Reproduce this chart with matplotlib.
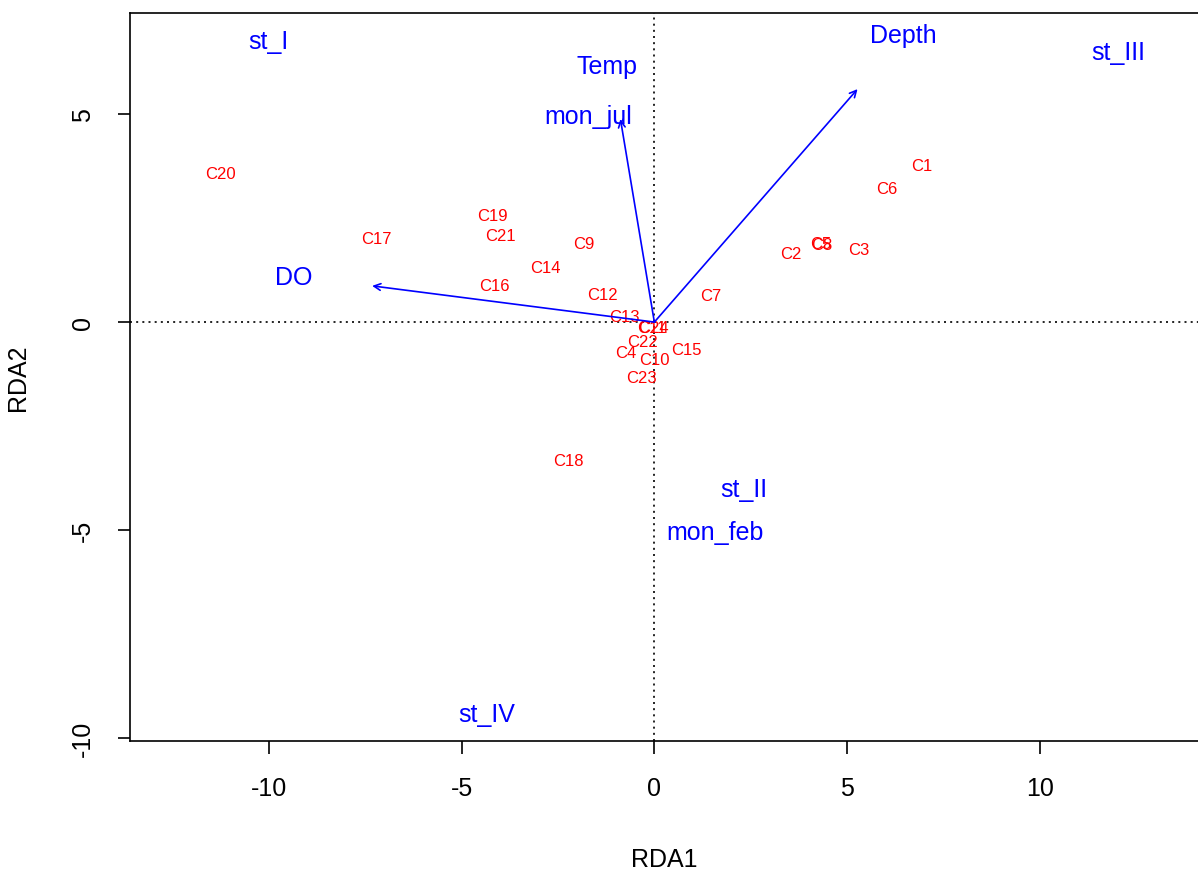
import numpy as np
import matplotlib.pyplot as plt

plt.rcParams['font.family'] = ['Liberation Sans', 'DejaVu Sans']
plt.rcParams['axes.unicode_minus'] = False

# site scores (RDA1, RDA2)
site_names = ["C1", "C2", "C3", "C4", "C5", "C6", "C7", "C8", "C9", "C10", "C11", "C12",
              "C13", "C14", "C15", "C16", "C17", "C18", "C19", "C20", "C21", "C22", "C23", "C24"]
site_x = [6.93, 3.55, 5.29, -0.75, 4.31, 6.02, 1.45, 4.33, -1.84, 0.0, -0.08, -1.35,
          -0.78, -2.83, 0.83, -4.15, -7.21, -2.23, -4.20, -11.26, -4.00, -0.31, -0.34, -0.03]
site_y = [3.77, 1.66, 1.75, -0.72, 1.90, 3.20, 0.63, 1.86, 1.88, -0.89, -0.12, 0.67,
          0.14, 1.30, -0.65, 0.87, 2.00, -3.32, 2.57, 3.56, 2.07, -0.46, -1.32, -0.14]

# continuous environmental variables (arrow tips and label positions)
env_names = ["Depth", "Temp", "DO"]
env_x = [5.27, -0.88, -7.32]
env_y = [5.60, 4.88, 0.87]
env_lab_x = [6.46, -1.22, -9.36]
env_lab_y = [6.90, 6.15, 1.08]

# factor centroids
fac_names = ["st_I", "st_II", "st_III", "st_IV", "mon_jul", "mon_feb"]
fac_x = [-10.01, 2.31, 12.04, -4.36, -1.71, 1.58]
fac_y = [6.75, -4.01, 6.49, -9.42, 4.95, -5.05]

fig = plt.figure(figsize=(11.98, 8.7), dpi=100)
ax = fig.add_axes([0.1085, 0.147, 0.8915, 0.837])

ax.axhline(0, color='black', lw=1.2, ls=(0, (1.2, 2.5)))
ax.axvline(0, color='black', lw=1.2, ls=(0, (1.2, 2.5)))

for name, x, y in zip(site_names, site_x, site_y):
    ax.text(x, y, name, color='red', fontsize=12, ha='center', va='center')

for name, x, y, lx, ly in zip(env_names, env_x, env_y, env_lab_x, env_lab_y):
    ax.annotate('', xy=(x, y), xytext=(0, 0),
                arrowprops=dict(arrowstyle='->', color='blue', lw=1.2,
                                mutation_scale=12, shrinkA=0, shrinkB=0))
    ax.text(lx, ly, name, color='blue', fontsize=18, ha='center', va='center')

for name, x, y in zip(fac_names, fac_x, fac_y):
    ax.text(x, y, name, color='blue', fontsize=18, ha='center', va='center')

ax.set_xlim(-13.6, 14.1)
ax.set_ylim(-10.07, 7.43)
ax.set_xticks([-10, -5, 0, 5, 10])
ax.set_yticks([-10, -5, 0, 5])
ax.tick_params(labelsize=18, length=9, width=1.2, pad=16)
for lab in ax.get_yticklabels():
    lab.set_rotation(90)
    lab.set_va('center')
ax.spines['right'].set_visible(False)
for s in ['left', 'top', 'bottom']:
    ax.spines[s].set_linewidth(1.2)

ax.set_xlabel('RDA1', fontsize=18, labelpad=34)
ax.set_ylabel('RDA2', fontsize=18, labelpad=30)

fig.savefig('out.png', dpi=100)
